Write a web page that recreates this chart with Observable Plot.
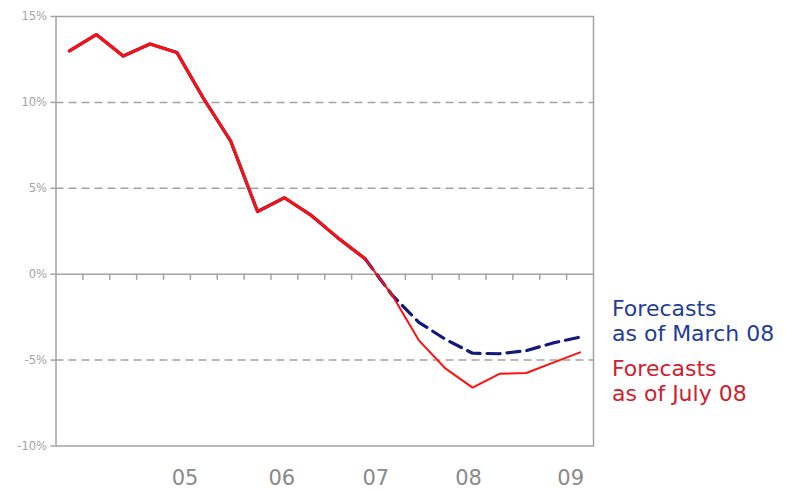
<!DOCTYPE html>
<html><head><meta charset="utf-8">
<script src="https://cdn.jsdelivr.net/npm/d3@7"></script>
<script src="https://cdn.jsdelivr.net/npm/@observablehq/plot@0.6"></script>
<style>
body{margin:0;background:#fff;}
#wrap{position:relative;width:785px;height:490px;overflow:hidden;}
.leg{position:absolute;left:612px;font-family:"DejaVu Sans",sans-serif;font-size:22px;line-height:25px;white-space:nowrap;}
#legMarch{top:296px;color:#1f3d98;}
#legJuly{top:356px;color:#d0202e;}
</style></head><body>
<div id="wrap"><div class="leg" id="legMarch">Forecasts<br>as of March 08</div><div class="leg" id="legJuly">Forecasts<br>as of July 08</div></div>
<script>
// quarter index 0..19
const historyQ = [0,1,2,3,4,5,6,7,8,9,10,11];
const historyV = [13.0, 13.95, 12.7, 13.4, 12.9, 10.2, 7.75, 3.65, 4.45, 3.42, 2.1, 0.9];
const forecastQ = [11,12,13,14,15,16,17,18,19];
const marchV = [0.9, -1.2, -2.8, -3.8, -4.6, -4.63, -4.45, -4.0, -3.66];
const julyV  = [0.9, -1.2, -3.85, -5.5, -6.6, -5.8, -5.75, -5.15, -4.55];
const yearLabels = ["05","06","07","08","09"];
const yearLabelAt = [4.3, 7.9, 11.4, 14.85, 18.65];
const yTicks = [-10,-5,0,5,10,15];
const gridLevels = [10,5,-5];
const quarterBounds = d3.range(19).map(i => i + 0.5);

const hist = historyQ.map((q,i)=>({q, v: historyV[i]}));
const march = forecastQ.map((q,i)=>({q, v: marchV[i]}));
const july = forecastQ.map((q,i)=>({q, v: julyV[i]}));

const tickShape = {draw(ctx, l){ ctx.moveTo(0,0); ctx.lineTo(0,-l); }};
const gray = "#a3a3a3";

const chart = Plot.plot({
  width: 785, height: 490,
  marginLeft: 55.5, marginRight: 192, marginTop: 16, marginBottom: 44.5,
  x: {domain: [-0.5, 19.5], axis: null, label: null},
  y: {domain: [-10, 15], axis: null, label: null},
  style: {fontFamily: "DejaVu Sans, sans-serif", background: "white"},
  marks: [
    Plot.ruleY(gridLevels, {stroke: gray, strokeWidth: 1.5, strokeDasharray: "8,5"}),
    Plot.ruleY([0], {stroke: gray, strokeWidth: 1.5}),
    Plot.vector(quarterBounds, {x: d => d, y: 0, length: 5, rotate: 180, anchor: "start", shape: tickShape, stroke: gray, strokeWidth: 1.5}),
    Plot.frame({stroke: gray, strokeWidth: 1.5}),
    Plot.axisY(yTicks, {tickSize: 5, tickPadding: 4, tickFormat: d => d + "%", fontSize: 11.5, color: gray, strokeWidth: 1.5, label: null}),
    Plot.axisX(yearLabelAt, {tickSize: 0, tickPadding: 24, tickFormat: d => yearLabels[yearLabelAt.indexOf(d)], fontSize: 21, color: "#8a8a8a", label: null}),
    Plot.line(hist, {x: "q", y: "v", stroke: "#12197a", strokeWidth: 3.2, strokeLinejoin: "round"}),
    Plot.line(march, {x: "q", y: "v", stroke: "#12197a", strokeWidth: 3.2, strokeDasharray: "13,7"}),
    Plot.line(hist, {x: "q", y: "v", stroke: "#ff1010", strokeWidth: 3, strokeLinejoin: "round"}),
    Plot.line(july, {x: "q", y: "v", stroke: "#ff1010", strokeWidth: 2, strokeLinejoin: "round"})
  ]
});
const wrap = document.getElementById("wrap");
chart.style.position = "absolute"; chart.style.left = "0"; chart.style.top = "0";
wrap.insertBefore(chart, wrap.firstChild);
</script>
</body></html>
